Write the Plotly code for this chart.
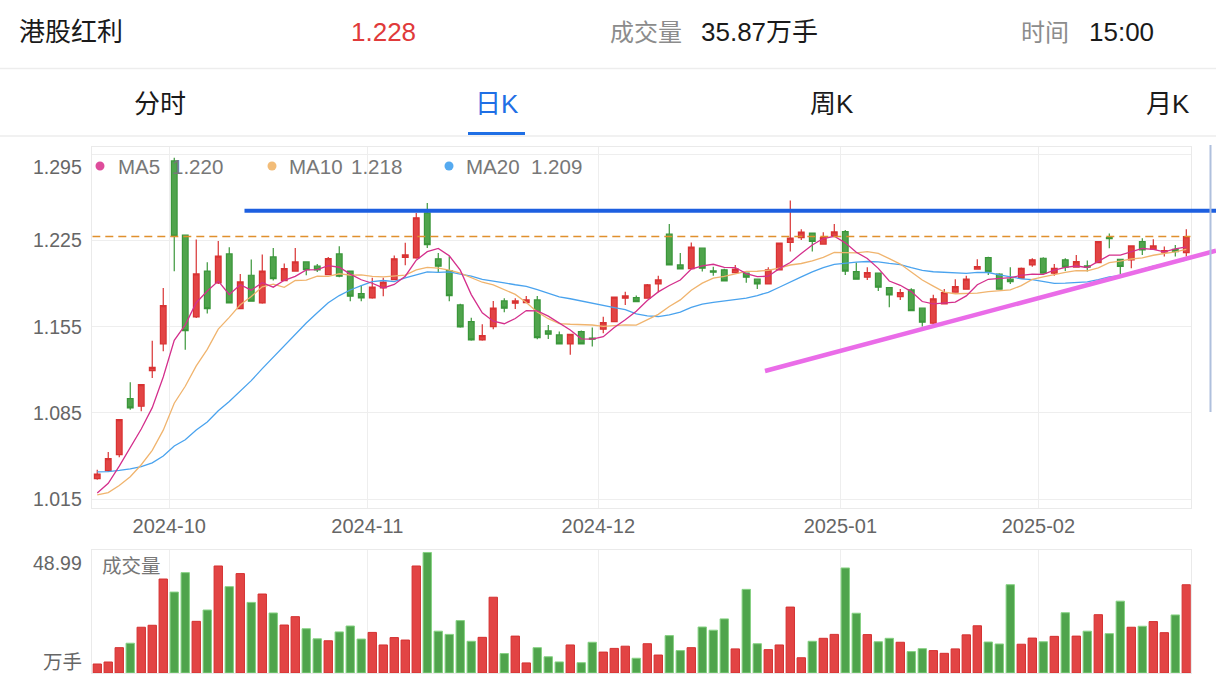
import plotly.graph_objects as go
import pandas as pd

# ---------------- data ----------------
opens = [1.0315, 1.0380, 1.0510, 1.0964, 1.0903, 1.1192, 1.1408, 1.2894, 1.2291, 1.1628,
         1.2000, 1.1904, 1.2139, 1.1695, 1.1966, 1.1741, 1.2115, 1.1923, 1.2000, 1.2074,
         1.2040, 1.1971, 1.2139, 1.2000, 1.1817, 1.1782, 1.1863, 1.1931, 1.2111, 1.2107,
         1.2472, 1.2099, 1.2004, 1.1725, 1.1590, 1.1441, 1.1549, 1.1758, 1.1739, 1.1744,
         1.1766, 1.1514, 1.1482, 1.1409, 1.1509, 1.1455, 1.1528, 1.1590, 1.1780, 1.1785,
         1.1780, 1.1896, 1.2299, 1.2050, 1.2020, 1.2186, 1.2001, 1.2010, 1.1988, 1.1983,
         1.1934, 1.1896, 1.2010, 1.2232, 1.2272, 1.2308, 1.2219, 1.2287, 1.2320, 1.1996,
         1.1950, 1.1983, 1.1866, 1.1793, 1.1847, 1.1699, 1.1577, 1.1733, 1.1829, 1.1853,
         1.2016, 1.2109, 1.1975, 1.1934, 1.1942, 1.2050, 1.2104, 1.1983, 1.2091, 1.2032,
         1.2042, 1.2069, 1.2272, 1.2096, 1.2091, 1.2239, 1.2177, 1.2153, 1.2177, 1.2150]
highs = [1.0388, 1.0531, 1.0800, 1.1097, 1.1080, 1.1435, 1.1863, 1.2920, 1.2295, 1.2256,
         1.2072, 1.2243, 1.2194, 1.1977, 1.2093, 1.2134, 1.2188, 1.2061, 1.2188, 1.2078,
         1.2058, 1.2115, 1.2202, 1.2005, 1.1885, 1.1945, 1.1945, 1.2126, 1.2229, 1.2472,
         1.2553, 1.2147, 1.2121, 1.1735, 1.1622, 1.1568, 1.1758, 1.1780, 1.1780, 1.1798,
         1.1798, 1.1563, 1.1509, 1.1490, 1.1517, 1.1541, 1.1630, 1.1793, 1.1833, 1.1801,
         1.1896, 1.1961, 1.2381, 1.2146, 1.2231, 1.2190, 1.2036, 1.2018, 1.2050, 1.1988,
         1.1938, 1.2031, 1.2232, 1.2572, 1.2340, 1.2312, 1.2316, 1.2381, 1.2334, 1.2069,
         1.2031, 1.1988, 1.1870, 1.1855, 1.1861, 1.1703, 1.1808, 1.1855, 1.1934, 1.1961,
         1.2096, 1.2117, 1.1983, 1.2031, 1.2028, 1.2104, 1.2113, 1.2058, 1.2104, 1.2131,
         1.2085, 1.2245, 1.2304, 1.2100, 1.2210, 1.2267, 1.2259, 1.2199, 1.2212, 1.2340]
lows = [1.0307, 1.0370, 1.0489, 1.0875, 1.0862, 1.1132, 1.1349, 1.1999, 1.1362, 1.1620,
        1.1655, 1.1895, 1.1738, 1.1690, 1.1750, 1.1735, 1.1923, 1.1920, 1.1998, 1.1967,
        1.1993, 1.1965, 1.1950, 1.1755, 1.1755, 1.1775, 1.1796, 1.1925, 1.2048, 1.2100,
        1.2188, 1.1985, 1.1755, 1.1540, 1.1435, 1.1435, 1.1528, 1.1666, 1.1693, 1.1739,
        1.1447, 1.1449, 1.1405, 1.1320, 1.1405, 1.1387, 1.1495, 1.1585, 1.1725, 1.1748,
        1.1775, 1.1828, 1.2045, 1.2012, 1.2015, 1.1996, 1.1961, 1.1915, 1.1980, 1.1906,
        1.1855, 1.1890, 1.2005, 1.2158, 1.2253, 1.2158, 1.2215, 1.2282, 1.1969, 1.1930,
        1.1928, 1.1839, 1.1707, 1.1766, 1.1675, 1.1550, 1.1570, 1.1730, 1.1825, 1.1850,
        1.2012, 1.1969, 1.1850, 1.1896, 1.1938, 1.2036, 1.1980, 1.1961, 1.2001, 1.2028,
        1.1996, 1.2065, 1.2186, 1.1977, 1.2023, 1.2131, 1.2172, 1.2118, 1.2118, 1.2118]
closes = [1.0353, 1.0477, 1.0794, 1.0889, 1.1078, 1.1219, 1.1719, 1.2283, 1.1517, 1.1977,
          1.1695, 1.2121, 1.1741, 1.1912, 1.1755, 1.2000, 1.1939, 1.2020, 1.2074, 1.2012,
          1.2010, 1.2101, 1.1958, 1.1796, 1.1782, 1.1869, 1.1910, 1.2099, 1.2131, 1.2432,
          1.2215, 1.2040, 1.1801, 1.1547, 1.1441, 1.1476, 1.1699, 1.1699, 1.1758, 1.1766,
          1.1460, 1.1487, 1.1409, 1.1487, 1.1409, 1.1447, 1.1582, 1.1788, 1.1798, 1.1752,
          1.1888, 1.1928, 1.2050, 1.2018, 1.2194, 1.2023, 1.1991, 1.1920, 1.2015, 1.1950,
          1.1896, 1.2010, 1.2226, 1.2267, 1.2316, 1.2240, 1.2272, 1.2318, 1.2000, 1.1934,
          1.1988, 1.1869, 1.1806, 1.1825, 1.1679, 1.1585, 1.1775, 1.1825, 1.1874, 1.1934,
          1.2037, 1.1996, 1.1853, 1.1915, 1.2023, 1.2091, 1.1983, 1.2023, 1.2032, 1.2077,
          1.2031, 1.2239, 1.2264, 1.2037, 1.2204, 1.2172, 1.2204, 1.2166, 1.2158, 1.2280]
# volume in 万手
volumes = [3.66, 4.47, 10.3, 12.1, 18.6, 19.4, 38.2, 32.9, 40.8, 21.0,
           25.6, 43.5, 35.1, 40.4, 28.7, 32.1, 24.4, 19.5, 22.9, 18.0,
           13.9, 13.1, 16.7, 19.1, 13.8, 16.5, 11.4, 14.4, 13.4, 43.5,
           48.99, 17.0, 15.7, 21.3, 12.9, 14.5, 30.8, 7.9, 15.0, 4.1,
           10.3, 6.6, 4.5, 11.4, 4.2, 12.5, 8.5, 10.0, 10.9, 6.0,
           11.9, 7.3, 15.2, 9.1, 10.3, 18.7, 17.4, 22.0, 9.8, 34.0,
           11.9, 9.5, 11.4, 26.8, 6.2, 12.9, 14.1, 15.7, 42.7, 24.3,
           15.6, 12.7, 14.1, 12.5, 8.7, 9.9, 9.1, 8.0, 9.8, 15.5,
           19.2, 12.6, 11.8, 35.9, 11.7, 14.2, 12.7, 14.9, 24.5, 15.0,
           17.0, 23.7, 16.0, 29.2, 18.6, 19.0, 20.9, 16.4, 23.6, 35.87]
# closes of the 19 sessions before the visible window (moving-average warm-up)
prior_closes = [1.045, 1.060, 1.065, 1.070, 1.060, 1.062, 1.065, 1.050, 1.040, 1.040,
                1.030, 1.022, 1.018, 1.010, 1.005, 1.008, 1.010, 1.014, 1.032]

month_labels = ["2024-10", "2024-11", "2024-12", "2025-01", "2025-02"]
month_start_idx = [7, 25, 46, 68, 86]
price_ticks = [1.015, 1.085, 1.155, 1.225, 1.295]
price_tick_labels = ["1.015", "1.085", "1.155", "1.225", "1.295"]
last_price = 1.228
resistance_level = 1.249
support_start = (60.7, 1.1189)
support_end_value = 1.2165
ma_labels = [("MA5", "1.220"), ("MA10", "1.218"), ("MA20", "1.209")]

# ---------------- derived ----------------
n = len(closes)
x = list(range(n))
all_close = pd.Series(prior_closes + closes)
ma5 = all_close.rolling(5).mean().iloc[-n:].tolist()
ma10 = all_close.rolling(10).mean().iloc[-n:].tolist()
ma20 = all_close.rolling(20).mean().iloc[-n:].tolist()

RED = "#E24444"
RED_LINE = "#D83232"
GREEN = "#4FA44C"
GREEN_LINE = "#3A963A"
vol_colors = [RED if c >= o else GREEN for o, c in zip(opens, closes)]
vol_line = ["#D43030" if c >= o else "#86D283" for o, c in zip(opens, closes)]

W, H = 1216, 680
def px(v):
    return v / W
def py(v):
    return 1 - v / H

X_LEFT, X_RIGHT = 92.3, 1190.7
grid_x = [i - 0.45 for i in month_start_idx]
XR = [-0.45, 99.4]

FONT = "Liberation Sans, Arial, Noto Sans CJK SC, sans-serif"

fig = go.Figure()
fig.add_trace(go.Candlestick(
    x=x, open=opens, high=highs, low=lows, close=closes,
    increasing=dict(line=dict(color=RED_LINE, width=1.2), fillcolor=RED),
    decreasing=dict(line=dict(color=GREEN_LINE, width=1.2), fillcolor=GREEN),
    whiskerwidth=0, xaxis="x", yaxis="y", showlegend=False, hoverinfo="skip"))
fig.add_trace(go.Scatter(x=x, y=ma20, mode="lines", line=dict(color="#4AA3EE", width=1.3),
                         xaxis="x", yaxis="y", showlegend=False, hoverinfo="skip"))
fig.add_trace(go.Scatter(x=x, y=ma10, mode="lines", line=dict(color="#F0B46E", width=1.3),
                         xaxis="x", yaxis="y", showlegend=False, hoverinfo="skip"))
fig.add_trace(go.Scatter(x=x, y=ma5, mode="lines", line=dict(color="#D42F8C", width=1.3),
                         xaxis="x", yaxis="y", showlegend=False, hoverinfo="skip"))
fig.add_trace(go.Bar(x=x, y=volumes, marker=dict(color=vol_colors, line=dict(color=vol_line, width=1)),
                     width=0.76, xaxis="x2", yaxis="y2", showlegend=False, hoverinfo="skip"))

axis_common = dict(showline=True, mirror=True, linecolor="#EAEAEA", linewidth=1,
                   zeroline=False, ticks="")
fig.update_layout(
    width=W, height=H,
    margin=dict(l=0, r=0, t=0, b=0),
    paper_bgcolor="white", plot_bgcolor="white",
    font=dict(family=FONT, color="#666666", size=20),
    boxgap=0.26,
    xaxis=dict(domain=[px(X_LEFT), px(X_RIGHT)], range=XR, tickvals=grid_x, ticktext=month_labels,
               showgrid=True, gridcolor="#EEEEEE", rangeslider=dict(visible=False),
               tickfont=dict(size=20, color="#666666"), **axis_common),
    yaxis=dict(domain=[py(508), py(147)], range=[1.0077, 1.30069], tickvals=price_ticks,
               showticklabels=False, showgrid=True, gridcolor="#EEEEEE", **axis_common),
    xaxis2=dict(domain=[px(X_LEFT), px(X_RIGHT)], range=XR, tickvals=grid_x, showticklabels=False,
                showgrid=True, gridcolor="#EEEEEE", anchor="y2", **axis_common),
    yaxis2=dict(domain=[py(673), py(550)], range=[0, 50.0], showticklabels=False,
                showgrid=False, anchor="x2", **axis_common),
)

shapes = []
# header separators
shapes.append(dict(type="line", xref="paper", yref="paper", x0=0, x1=1, y0=py(68.5), y1=py(68.5),
                   line=dict(color="#EDEDED", width=1.5)))
shapes.append(dict(type="line", xref="paper", yref="paper", x0=0, x1=1, y0=py(136), y1=py(136),
                   line=dict(color="#EDEDED", width=1.5)))
# active tab underline
shapes.append(dict(type="line", xref="paper", yref="paper", x0=px(468), x1=px(525), y0=py(133.5), y1=py(133.5),
                   line=dict(color="#1F6FE5", width=3)))
# last price dashed line
shapes.append(dict(type="line", xref="x", yref="y", x0=XR[0], x1=XR[1], y0=last_price, y1=last_price,
                   line=dict(color="#E0902E", width=1.5, dash="8px,5px")))
# drawn resistance line (blue)
shapes.append(dict(type="line", xref="paper", yref="y", x0=px(244.5), x1=1.0,
                   y0=resistance_level, y1=resistance_level, line=dict(color="#1D5FE0", width=4)))
# drawn support line (magenta), extends past plot edge
x0p = (97.3 + 11 * support_start[0])
shapes.append(dict(type="line", xref="paper", yref="y", x0=px(x0p), x1=1.0,
                   y0=support_start[1], y1=support_end_value, line=dict(color="#EA6CE8", width=4.5)))
# right-edge panel border
shapes.append(dict(type="line", xref="paper", yref="paper", x0=px(1210.5), x1=px(1210.5),
                   y0=py(412), y1=py(145), line=dict(color="#AFC0DD", width=2)))
# legend dots
for cx, col in [(100, "#DE4C9B"), (272, "#F2BC78"), (449, "#55AAF0")]:
    shapes.append(dict(type="circle", xref="paper", yref="paper",
                       x0=px(cx - 4.5), x1=px(cx + 4.5), y0=py(166 + 4.5), y1=py(166 - 4.5),
                       fillcolor=col, line=dict(width=0)))
fig.update_layout(shapes=shapes)

ann = []
def text(t, x, y, size=20, color="#666666", anchor="left"):
    ann.append(dict(text=t, x=px(x), y=py(y), xref="paper", yref="paper", showarrow=False,
                    xanchor=anchor, yanchor="middle", font=dict(size=size, color=color, family=FONT)))

# header
text("港股红利", 17, 32, 26, "#1A1A1A")
text("1.228", 383, 32, 26, "#E03A3A", "center")
text("成交量", 608, 32, 24, "#8C8C8C")
text("35.87万手", 699, 32, 26, "#1A1A1A")
text("时间", 1019, 32, 24, "#8C8C8C")
text("15:00", 1087, 32, 26, "#1A1A1A")
# tabs
text("分时", 160, 104, 26, "#1A1A1A", "center")
text("日K", 497, 104, 26, "#1F6FE5", "center")
text("周K", 832, 104, 26, "#1A1A1A", "center")
text("月K", 1168, 104, 26, "#1A1A1A", "center")
# legend
for (name, val), (nx, vx) in zip(ma_labels, [(116, 170), (287, 349), (464, 529)]):
    text(name, nx, 166, 20.5, "#777777")
    text(val, vx, 166, 20.5, "#777777")
# price axis labels
for v, lab in zip(price_ticks, price_tick_labels):
    ypix = 499 - (v - 1.015) * 1232.1
    if ypix < 160:
        ypix = 167
    text(lab, 84, ypix, 19.5, "#666666", "right")
# volume panel labels
text("48.99", 84, 563, 19.5, "#666666", "right")
text("万手", 84, 662, 19.5, "#666666", "right")
text("成交量", 100, 566, 19.5, "#777777")
fig.update_layout(annotations=ann)

fig.write_html("out.html")
